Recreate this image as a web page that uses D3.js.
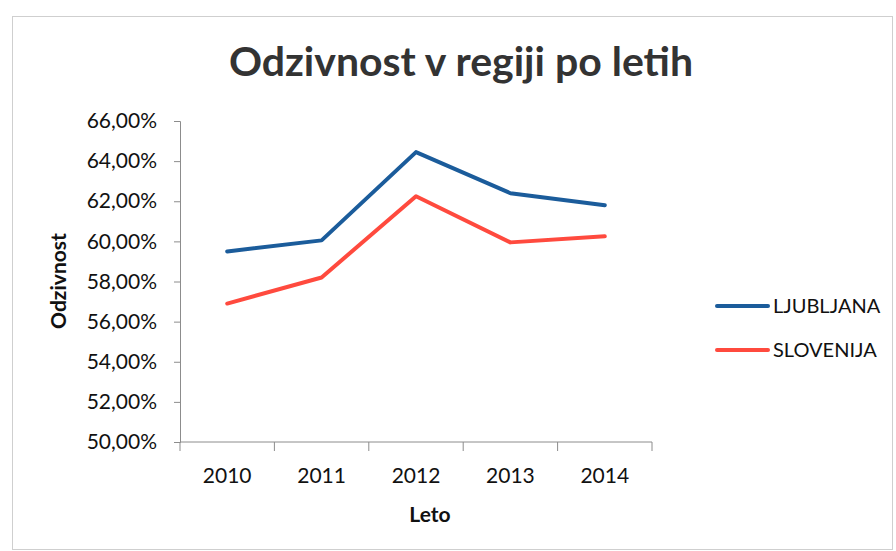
<html>
  <head>
    <meta charset="utf-8" />
    <script src="https://cdnjs.cloudflare.com/ajax/libs/d3/7.8.5/d3.min.js"></script>
    <style>
      body { margin: 0; background: #fff; }
      svg { display: block; }
      text { font-family: Lato, "Open Sans", sans-serif; }
    </style>
  </head>
  <body>
    <svg width="896" height="551"></svg>
  </body>
  <script>
    const years = ["2010", "2011", "2012", "2013", "2014"];
    const ljubljana = [0.595, 0.6005, 0.6445, 0.624, 0.618];
    const slovenija = [0.569, 0.582, 0.6225, 0.5995, 0.6025];
    const seriesNames = ["LJUBLJANA", "SLOVENIJA"];
    const yTicks = [0.5, 0.52, 0.54, 0.56, 0.58, 0.6, 0.62, 0.64, 0.66];

    const blue = "#1b5c9b",
      red = "#ff4a3e";

    const svg = d3.select("svg");

    // outer chart frame
    svg.append("rect")
      .attr("x", 12.5).attr("y", 16.5)
      .attr("width", 880).attr("height", 533)
      .attr("fill", "#fff")
      .attr("stroke", "#cfcfcf");

    const xScale = d3.scaleBand().domain(years).range([180, 652]);
    const yScale = d3.scaleLinear().domain([0.5, 0.66]).range([442, 121]);

    const fmt = d3.formatLocale({ decimal: ",", thousands: ".", grouping: [3], currency: ["", "€"] }).format(".2%");

    // y axis
    const yAxis = d3.axisLeft(yScale).tickValues(yTicks).tickFormat(fmt).tickSize(6).tickPadding(17);
    const yG = svg.append("g").attr("transform", "translate(180,0)").call(yAxis);
    yG.select(".domain").attr("stroke", "#8c8c8c");
    yG.selectAll(".tick line").attr("stroke", "#8c8c8c");
    yG.selectAll(".tick text")
      .attr("font-size", 21)
      .attr("fill", "#111")
      .style("font-family", "Lato, sans-serif");

    // x axis with ticks at category boundaries
    const xG = svg.append("g").attr("transform", "translate(0,442)");
    xG.append("line")
      .attr("x1", xScale.range()[0]).attr("x2", xScale.range()[1])
      .attr("stroke", "#8c8c8c");
    const bounds = years.map((d) => xScale(d)).concat([xScale.range()[1]]);
    xG.selectAll("line.tk")
      .data(bounds)
      .enter()
      .append("line")
      .attr("class", "tk")
      .attr("x1", (d) => d).attr("x2", (d) => d)
      .attr("y1", 0).attr("y2", 9)
      .attr("stroke", "#8c8c8c");
    xG.selectAll("text")
      .data(years)
      .enter()
      .append("text")
      .attr("x", (d) => xScale(d) + xScale.bandwidth() / 2)
      .attr("y", 41)
      .attr("text-anchor", "middle")
      .attr("font-size", 21)
      .attr("fill", "#111")
      .text((d) => d);

    // lines
    const line = d3.line()
      .x((d, i) => xScale(years[i]) + xScale.bandwidth() / 2)
      .y((d) => yScale(d));

    svg.append("path")
      .attr("d", line(slovenija))
      .attr("fill", "none")
      .attr("stroke", red)
      .attr("stroke-width", 4)
      .attr("stroke-linejoin", "round")
      .attr("stroke-linecap", "round");

    svg.append("path")
      .attr("d", line(ljubljana))
      .attr("fill", "none")
      .attr("stroke", blue)
      .attr("stroke-width", 4)
      .attr("stroke-linejoin", "round")
      .attr("stroke-linecap", "round");

    // title
    svg.append("text")
      .attr("x", 461).attr("y", 76)
      .attr("text-anchor", "middle")
      .attr("font-size", 41)
      .attr("font-weight", "bold")
      .attr("fill", "#333")
      .text("Odzivnost v regiji po letih");

    // axis titles
    svg.append("text")
      .attr("transform", "translate(66,281) rotate(-90)")
      .attr("text-anchor", "middle")
      .attr("font-size", 21)
      .attr("font-weight", "bold")
      .attr("fill", "#111")
      .text("Odzivnost");

    svg.append("text")
      .attr("x", 430).attr("y", 522)
      .attr("text-anchor", "middle")
      .attr("font-size", 21)
      .attr("font-weight", "bold")
      .attr("fill", "#111")
      .text("Leto");

    // legend
    const legend = svg.selectAll("g.legend")
      .data(seriesNames)
      .enter()
      .append("g")
      .attr("class", "legend")
      .attr("transform", (d, i) => `translate(717,${306 + i * 44})`);
    legend.append("line")
      .attr("x1", 0).attr("x2", 51)
      .attr("stroke", (d, i) => (i === 0 ? blue : red))
      .attr("stroke-width", 4)
      .attr("stroke-linecap", "round");
    legend.append("text")
      .attr("x", 56).attr("y", 7)
      .attr("font-size", 20)
      .attr("fill", "#111")
      .text((d) => d);
  </script>
</html>
